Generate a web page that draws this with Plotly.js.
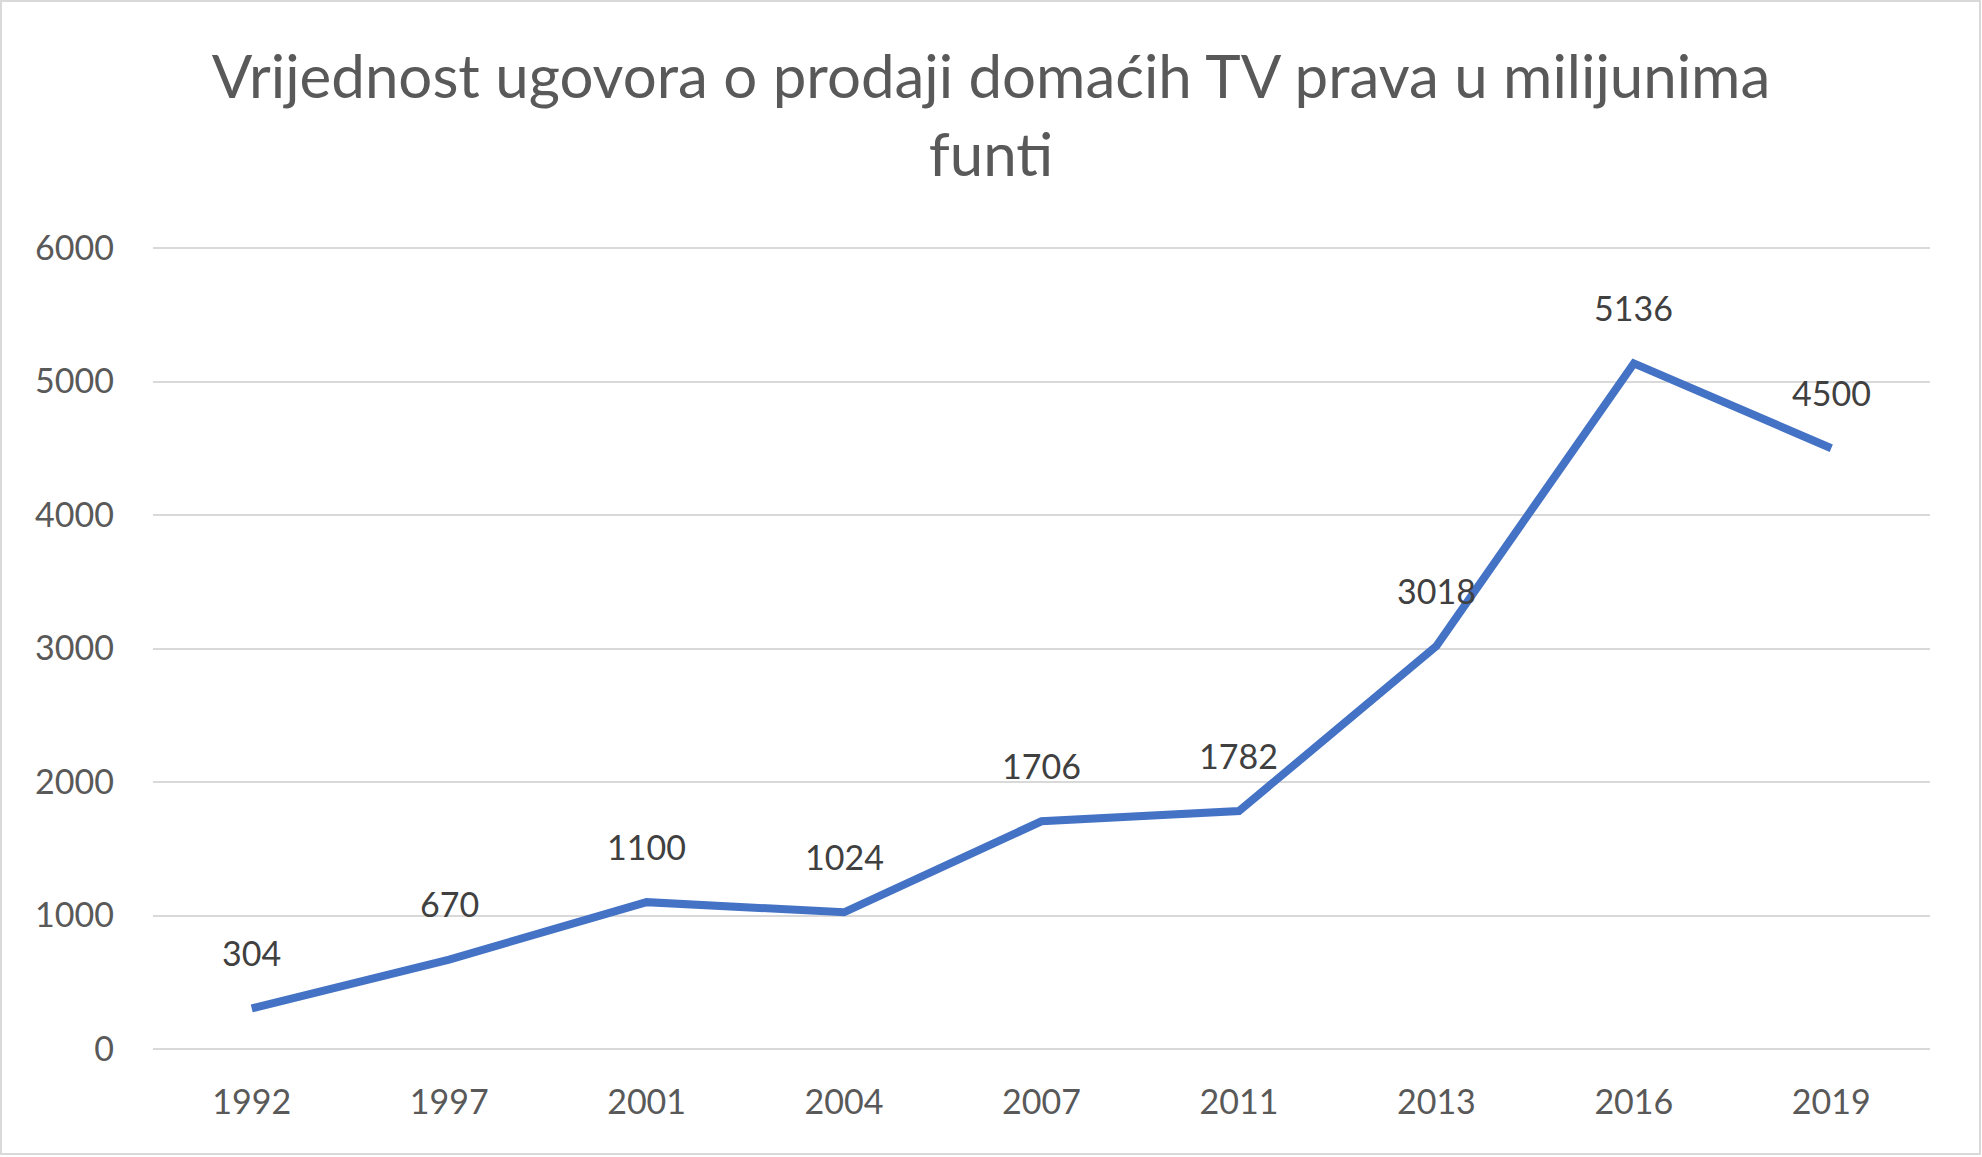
<!DOCTYPE html>
<html>
<head>
<meta charset="utf-8">
<script src="https://cdn.plot.ly/plotly-3.0.1.min.js"></script>
<style>
html,body{margin:0;padding:0;background:#fff;}
#wrap{position:relative;width:1982px;height:1157px;}
#chart{position:absolute;left:0;top:0;width:1982px;height:1157px;}
#frame{position:absolute;left:0;top:0;width:1981px;height:1155px;box-sizing:border-box;border:2px solid #d9d9d9;pointer-events:none;}
</style>
</head>
<body>
<div id="wrap"><div id="chart"></div><div id="frame"></div></div>
<script>
const titleText = "Vrijednost ugovora o prodaji domaćih TV prava u milijunima<br>funti";
const years = ["1992","1997","2001","2004","2007","2011","2013","2016","2019"];
const values = [304, 670, 1100, 1024, 1706, 1782, 3018, 5136, 4500];
const yTicks = [0, 1000, 2000, 3000, 4000, 5000, 6000];

const FONT = "Lato, 'Open Sans', sans-serif";

const trace = {
  type: "scatter",
  mode: "lines",
  x: years,
  y: values,
  line: {color: "#4472C4", width: 8, shape: "linear"},
  hoverinfo: "skip",
  showlegend: false
};

const annotations = values.map((v, i) => ({
  x: i, y: v, xref: "x", yref: "y",
  text: String(v),
  showarrow: false,
  yshift: 56,
  font: {family: FONT, size: 34, color: "#404040"}
}));

const layout = {
  width: 1982, height: 1157,
  paper_bgcolor: "#ffffff", plot_bgcolor: "#ffffff",
  margin: {l: 153, r: 52, t: 246, b: 108, pad: 0},
  title: {
    text: titleText,
    x: 0.5, xref: "container", xanchor: "center",
    y: 1 - 98/1157, yref: "container", yanchor: "top",
    font: {family: FONT, size: 60, color: "#595959"}
  },
  xaxis: {
    type: "category",
    range: [-0.5, 8.5],
    showgrid: false, zeroline: false, showline: false,
    ticks: "", ticklabelstandoff: 30,
    tickfont: {family: FONT, size: 34, color: "#595959"},
    fixedrange: true
  },
  yaxis: {
    range: [0, 6015],
    tickvals: yTicks,
    showgrid: true, gridcolor: "#d9d9d9", gridwidth: 2,
    zeroline: true, zerolinecolor: "#d9d9d9", zerolinewidth: 2,
    showline: false, ticks: "", ticklabelstandoff: 38,
    tickfont: {family: FONT, size: 34, color: "#595959"},
    fixedrange: true
  },
  annotations: annotations,
  showlegend: false
};

Plotly.newPlot("chart", [trace], layout, {displayModeBar: false, staticPlot: true});
</script>
</body>
</html>
